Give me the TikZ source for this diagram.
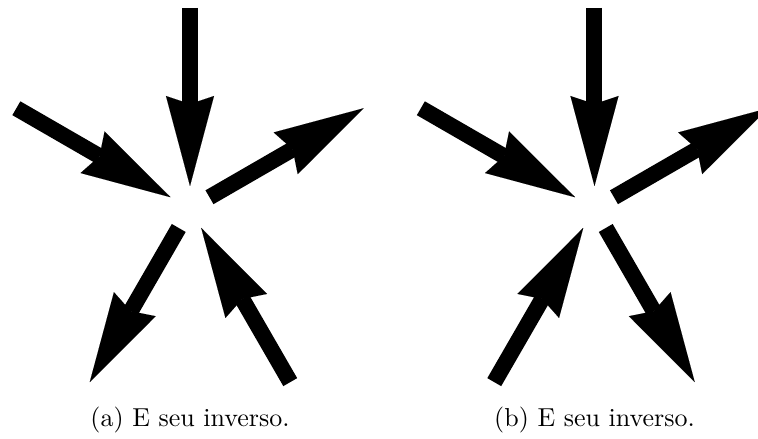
\documentclass[tikz,border=0pt]{standalone}
\usetikzlibrary{arrows.meta}
\begin{document}
\begin{tikzpicture}[x=0.385pt,y=0.385pt,
  vec/.style={line width=6.16pt,
    -{Stealth[length=34.65pt,width=18.5pt,inset=3.1pt,line width=0.01pt]}},
  captext/.style={anchor=base,font=\normalsize}]
\useasboundingbox (0,0) rectangle (758,439);
\clip (0,0) rectangle (758,439);
\coordinate (ca) at (190,230.5);
\coordinate (cb) at (594.5,230.5);
\foreach \p in {a,b}{
  \foreach \ang in {30,90,150,240,300}{
    \coordinate (\p\ang i) at ([shift={(\ang:22.5)}]c\p);
    \coordinate (\p\ang o) at ([shift={(\ang:200.5)}]c\p);
  }
}
% panel (a)
\draw[vec] (a90o) -- (a90i);
\draw[vec] (a150o) -- (a150i);
\draw[vec] (a30i) -- (a30o);
\draw[vec] (a240i) -- (a240o);
\draw[vec] (a300o) -- (a300i);
% panel (b)
\draw[vec] (b90o) -- (b90i);
\draw[vec] (b150o) -- (b150i);
\draw[vec] (b30i) -- (b30o);
\draw[vec] (b240o) -- (b240i);
\draw[vec] (b300i) -- (b300o);
\node[captext] (capa) at (190,12) {(a) E seu inverso.};
\node[captext] (capb) at (594.5,12) {(b) E seu inverso.};
\end{tikzpicture}
\end{document}
